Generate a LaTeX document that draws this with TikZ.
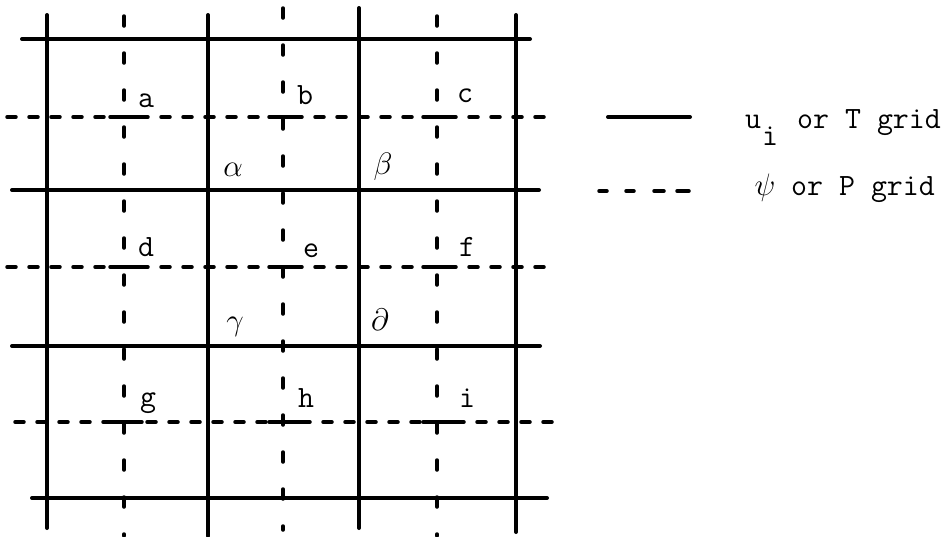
\RequirePackage{fix-cm}
\documentclass[tikz,border=0pt]{standalone}
\usepackage{fontspec}
\tikzset{
  solidline/.style={line width=4pt, line cap=round},
  hdash/.style={line width=3.5pt, line cap=round, dash pattern=on 9pt off 13pt},
  vdash/.style={line width=3.5pt, line cap=round, dash pattern=on 10pt off 27pt},
  nodebar/.style={line width=3.5pt, line cap=round},
  lbl/.style={font=\fontsize{31}{36}\selectfont\ttfamily\addfontfeatures{FakeBold=1.2}, anchor=base, inner sep=0pt},
  lblw/.style={lbl, anchor=base west},
}
\begin{document}
\begin{tikzpicture}[x=1pt,y=-1pt]
\useasboundingbox[fill=white] (0,0) rectangle (945,536);
% dashed verticals (psi / P grid)
\draw[vdash] (124,16) -- (124,536);
\draw[vdash] (283,8) -- (283,530);
\draw[vdash] (437,16) -- (437,536);
% dashed horizontals (psi / P grid)
\draw[hdash] (7,117) -- (555,117);
\draw[hdash] (7,267) -- (555,267);
\draw[hdash] (15,422) -- (555,422);
% longer dashes at the P points
\foreach \x in {124,283,437}{
  \foreach \y in {117,267,422}{
    \draw[nodebar] (\x-14,\y) -- (\x+18,\y);
  }
}
% solid verticals (u_i / T grid)
\draw[solidline] (47,15) -- (47,528);
\draw[solidline] (208,15) -- (208,536);
\draw[solidline] (359,8) -- (359,528);
\draw[solidline] (516,15) -- (516,532);
% solid horizontals
\draw[solidline] (22,39) -- (530,39);
\draw[solidline] (12,190) -- (539,190);
\draw[solidline] (12,346) -- (540,346);
\draw[solidline] (32,498) -- (547,498);
% point labels
\node[lbl] (la) at (146,107) {a};
\node[lbl] (lb) at (305,104) {b};
\node[lbl] (lc) at (465,102) {c};
\node[lbl] (lal) at (233,176) {$\alpha$};
\node[lbl] (lbe) at (383,174) {$\beta$};
\node[lbl] (ld) at (146,256) {d};
\node[lbl] (le) at (311,257) {e};
\node[lbl] (lf) at (467,256) {f};
\node[lbl] (lga) at (235,330) {$\gamma$};
\node[lbl] (lde) at (380,330) {$\partial$};
\node[lbl] (lg) at (148,406) {g};
\node[lbl] (lh) at (306,407) {h};
\node[lbl] (li) at (467,407) {i};
% legend
\draw[solidline] (608,117) -- (690,117);
\draw[nodebar] (599,191) -- (607,191);
\draw[nodebar] (626,191) -- (634,191);
\draw[nodebar] (654,191) -- (664,191);
\draw[nodebar] (677,191) -- (689,191);
\node[lblw] (lu) at (745,128) {u};
\node[lblw] (lui) at (762,145) {i};
\node[lblw] (lt) at (797,128) {or T grid};
\node[lbl] (lpsi) at (765,195) {$\psi$};
\node[lblw] (lp) at (791,195) {or P grid};
\end{tikzpicture}
\end{document}
